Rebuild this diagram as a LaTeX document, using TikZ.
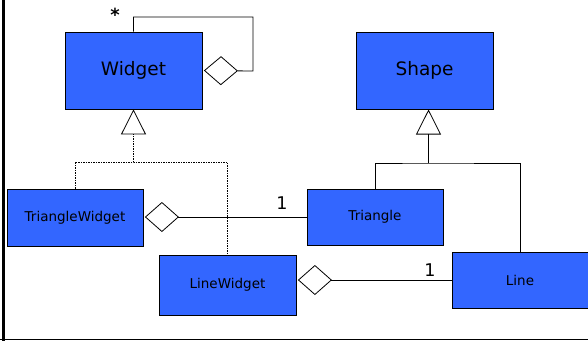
\documentclass[tikz,border=0pt]{standalone}
\usepackage{fontspec}
\setmainfont{DejaVu Sans}
\usetikzlibrary{arrows.meta}
\definecolor{classblue}{HTML}{3366FF}
\tikzset{
  x=1pt, y=-1pt,
  classbox/.style={draw=black, line width=0.8pt, fill=classblue, inner sep=0pt, anchor=center},
  bigclass/.style={classbox, minimum width=137pt, minimum height=77pt, font=\fontsize{18.5}{20}\selectfont},
  smallclass/.style={classbox, minimum width=136pt, minimum height=57pt, font=\fontsize{13.5}{15}\selectfont},
  conn/.style={line width=0.8pt, black},
  realize/.style={conn, dash pattern=on 1.5pt off 1pt, line width=0.6pt},
  inherit/.style={-{Triangle[open, length=25pt, width=25pt, line width=0.8pt]}},
  aggr/.style={{Diamond[open, length=34pt, width=30pt, line width=0.8pt]}-},
  mult/.style={font=\fontsize{17.5}{18}\selectfont, inner sep=0pt}
}
\begin{document}
\begin{tikzpicture}
\useasboundingbox (0,0) rectangle (588,341);
% frame
\draw[line width=3pt] (3,0) -- (3,341);
\draw[line width=1.5pt] (0,339.5) -- (588,339.5);

% classes
\node[bigclass] (widget) at (133.5,70.5) {Widget};
\node[bigclass] (shape) at (424.5,70.5) {Shape};
\node[smallclass] (triwidget) at (75,217.5) {TriangleWidget};
\node[smallclass, minimum height=56pt] (triangle) at (375,217) {Triangle};
\node[smallclass, minimum width=137pt, minimum height=60pt] (linewidget) at (227.5,285) {LineWidget};
\node[smallclass, minimum height=56pt] (line) at (520,280) {Line};

% Widget contains widgets
\coordinate (loopa) at (133.5,17);
\coordinate (loopb) at (253,71);
\draw[conn, {Diamond[open, length=34pt, width=29pt, line width=0.8pt]}-] ([xshift=1.5pt]widget.east) -- (loopb) |- (loopa) -- (widget.north);
\node[mult, font=\fontsize{18}{18}\selectfont\bfseries] (star) at (115,15) {*};

% Widget subclasses
\coordinate (wjoin) at (133.5,162);
\draw[realize] (triwidget.north) |- (wjoin) -| (linewidget.north);
\draw[realize, inherit] (wjoin) -- (widget.south);

% Shape subclasses
\coordinate (sjoin) at (428.5,163);
\draw[conn] (triangle.north) |- (sjoin) -| (line.north);
\draw[conn, line width=1.8pt] (sjoin) -- (428.5,135);
\draw[conn, inherit] (428.5,136) -- (428.5,109.5);

% aggregations
\draw[conn, aggr] ([xshift=1.5pt]triwidget.east |- triangle.west) -- (triangle.west);
\node[mult] (m1) at (282,203) {1};
\draw[conn, aggr] ([xshift=1.5pt]line.west -| linewidget.east) -- (line.west);
\node[mult] (m2) at (430,270) {1};
\end{tikzpicture}
\end{document}
